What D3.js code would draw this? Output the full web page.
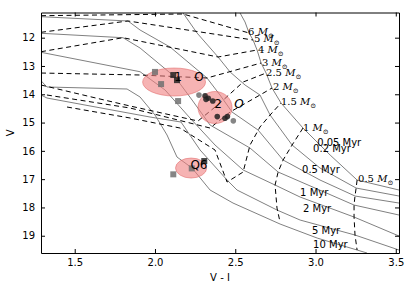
<!DOCTYPE html>
<html>
<head>
<meta charset="utf-8">
<script src="https://cdn.jsdelivr.net/npm/d3@7"></script>
<style>
body { margin: 0; background: #fff; }
text { font-family: "DejaVu Sans", sans-serif; }
</style>
</head>
<body>
<div id="chart"></div>
<script>
// isochrones (V-I, V)
var iso005 = [[2.530,11.128],[2.561,11.446],[2.586,11.835],[2.611,12.082],[2.636,12.436],[2.661,12.895],[2.692,13.249],[2.729,13.779],[2.785,14.309],[2.922,15.193],[3.091,16.147],[3.259,17.031],[3.520,17.384]];
var iso02  = [[2.175,11.128],[2.262,11.835],[2.393,12.683],[2.468,13.213],[2.561,13.673],[2.654,14.026],[2.717,14.733],[2.854,15.794],[3.028,16.607],[3.253,17.314],[3.520,17.596]];
var iso05  = [[1.290,11.258],[1.832,11.41],[1.907,11.729],[2.094,12.33],[2.324,13.425],[2.405,14.026],[2.480,14.627],[2.642,15.263],[2.798,16.324],[3.028,17.031],[3.246,17.596],[3.520,17.844]];
var iso1   = [[1.290,11.845],[1.801,12.001],[1.907,12.365],[2.125,13.39],[2.231,14.203],[2.343,15.087],[2.592,15.9],[2.767,16.748],[2.997,17.314],[3.240,17.915],[3.520,18.268]];
var iso2   = [[1.290,12.517],[1.907,13.203],[2.063,13.85],[2.218,14.839],[2.374,15.794],[2.549,16.677],[2.748,17.208],[2.904,17.632],[3.072,17.985],[3.240,18.339],[3.520,19.01]];
var iso5   = [[1.290,14.026],[1.327,14.132],[1.969,14.804],[2.162,14.981],[2.281,15.97],[2.449,17.031],[2.511,17.384],[2.760,18.091],[2.904,18.445],[3.246,18.975],[3.520,19.505]];
var iso10  = [[1.290,13.521],[1.327,13.743],[1.826,13.814],[1.907,14.097],[2.000,14.733],[2.075,15.44],[2.137,16.218],[2.231,16.607],[2.343,17.384],[2.486,17.844],[2.779,18.586],[3.010,19.081],[3.259,19.505],[3.321,19.611]];
var isoNames = ["0.05 Myr","0.2 Myr","0.5 Myr","1 Myr","2 Myr","5 Myr","10 Myr"];
var isoLabelPos = [[3.01,15.688],[2.985,15.9],[2.916,16.642],[2.904,17.455],[2.922,18.02],[2.978,18.798],[2.985,19.293]];

// mass tracks
var trk6  = [[1.290,11.223],[2.175,11.163],[2.586,11.835]];
var trk5  = [[1.290,11.81],[1.832,11.41],[2.611,12.082]];
var trk4  = [[1.290,12.496],[1.801,12.001],[2.393,12.683],[2.636,12.436]];
var trk3  = [[1.290,13.249],[1.907,13.319],[2.324,13.425],[2.661,12.895]];
var trk25 = [[1.290,13.673],[1.658,14.168],[1.845,14.415],[2.268,14.945],[2.405,14.309],[2.549,13.567],[2.692,13.249]];
var trk2  = [[1.327,14.026],[1.845,14.486],[2.343,15.193],[2.468,14.627],[2.654,14.026],[2.729,13.779]];
var trk15 = [[1.452,14.45],[1.845,14.839],[2.156,15.193],[2.374,15.97],[2.449,17.102],[2.549,16.748],[2.592,15.794],[2.654,15.157],[2.717,14.733],[2.785,14.309]];
var trk1  = [[2.922,15.193],[2.854,15.794],[2.798,16.324],[2.767,16.748],[2.748,17.208],[2.760,18.021],[2.779,18.515]];
var trk05 = [[3.259,17.031],[3.253,17.314],[3.246,17.596],[3.240,17.915],[3.240,18.339],[3.246,18.975],[3.259,19.505]];
var massNames = ["6","5","4","3","2.5","2","1.5","1","0.5"];
var massLabelPos = [[2.58,11.765],[2.617,12.012],[2.642,12.401],[2.667,12.86],[2.692,13.213],[2.735,13.743],[2.785,14.238],[2.922,15.158],[3.265,16.96]];

// stars
var sqX = [2.000,2.038,2.114,2.137,2.144,2.307,2.114,2.229];
var sqY = [13.21,13.64,13.32,13.50,14.24,16.36,16.83,16.62];
var sqDark = [0,0,1,1,0,1,0,0];
var ciX = [2.274,2.312,2.318,2.332,2.360,2.388,2.436,2.451,2.488];
var ciY = [14.03,14.05,14.18,14.14,14.24,14.79,14.85,14.79,14.94];
var ciDark = [0,1,1,1,1,1,1,1,0];

// groups
var grpNames = ["1","2","Q6"];
var grpX  = [2.119,2.374,2.225];
var grpY  = [13.567,14.468,16.607];
var grpRx = [0.196,0.106,0.097];
var grpRy = [0.495,0.566,0.354];
var grpLabelX = [2.144,2.393,2.274];
var grpLabelY = [13.39,14.344,16.5];
// extra "O" marks beside groups 1 and 2
var oLabelX = [2.274,2.523];
var oLabelY = [13.39,14.344];

var xTicks = [1.5,2.0,2.5,3.0,3.5];
var yTicks = [12,13,14,15,16,17,18,19];

var W = 415, H = 288;
var m = {left:41, right:16, top:12.5, bottom:35};

var svg = d3.select("#chart").append("svg")
    .attr("width", W).attr("height", H);

var x = d3.scaleLinear().domain([1.29, 3.52]).range([m.left, W - m.right]);
var y = d3.scaleLinear().domain([11.11, 19.61]).range([m.top, H - m.bottom]);

svg.append("clipPath").attr("id","clip")
  .append("rect").attr("x",m.left).attr("y",m.top)
  .attr("width",W-m.left-m.right).attr("height",H-m.top-m.bottom);

var plot = svg.append("g").attr("clip-path","url(#clip)");
var line = d3.line().x(function(d){return x(d[0]);}).y(function(d){return y(d[1]);});

// isochrones
[iso005,iso02,iso05,iso1,iso2,iso5,iso10].forEach(function(d){
    plot.append("path").attr("d", line(d))
        .attr("fill","none").attr("stroke","#808080").attr("stroke-width",1);
});
// tracks
[trk6,trk5,trk4,trk3,trk25,trk2,trk15,trk1,trk05].forEach(function(d){
    plot.append("path").attr("d", line(d))
        .attr("fill","none").attr("stroke","#000").attr("stroke-width",1)
        .attr("stroke-dasharray","5,3.5");
});

// ellipses
grpX.forEach(function(gx, i){
    plot.append("ellipse")
        .attr("cx", x(gx)).attr("cy", y(grpY[i]))
        .attr("rx", x(gx + grpRx[i]) - x(gx))
        .attr("ry", y(grpY[i] + grpRy[i]) - y(grpY[i]))
        .attr("fill","#f08080").attr("fill-opacity",0.6)
        .attr("stroke","#e06060").attr("stroke-opacity",0.5);
});

// squares
sqX.forEach(function(sx, i){
    plot.append("rect")
        .attr("x", x(sx) - 3).attr("y", y(sqY[i]) - 3)
        .attr("width",6).attr("height",6)
        .attr("fill", sqDark[i] ? "#222" : "#707070").attr("fill-opacity",0.85);
});
// circles
ciX.forEach(function(cx, i){
    plot.append("circle")
        .attr("cx", x(cx)).attr("cy", y(ciY[i])).attr("r",2.8)
        .attr("fill", ciDark[i] ? "#222" : "#707070").attr("fill-opacity",0.85);
});

// group labels
grpNames.forEach(function(t, i){
    plot.append("text").attr("x", x(grpLabelX[i])).attr("y", y(grpLabelY[i]))
        .attr("dy","0.35em").attr("text-anchor","middle")
        .attr("font-size",12).text(t);
});
oLabelX.forEach(function(ox, i){
    plot.append("text").attr("x", x(ox)).attr("y", y(oLabelY[i]))
        .attr("dy","0.35em").attr("text-anchor","middle")
        .attr("font-size",12).attr("font-style", i ? "italic" : "normal").text("O");
});

// mass labels
massNames.forEach(function(t, i){
    var lt = plot.append("text").attr("x", x(massLabelPos[i][0])).attr("y", y(massLabelPos[i][1]))
        .attr("dy","0.35em").attr("font-size",10)
        .style("font-family","DejaVu Serif, serif");
    lt.append("tspan").text(t + " ");
    lt.append("tspan").attr("font-style","italic").text("M");
    lt.append("tspan").attr("font-size",7).attr("dy","3").text("\u2299");
});
// age labels
isoNames.forEach(function(t, i){
    plot.append("text").attr("x", x(isoLabelPos[i][0])).attr("y", y(isoLabelPos[i][1]))
        .attr("dy","0.35em").attr("font-size",10).text(t);
});

// frame + axes (ticks inside, all four sides)
var gb = svg.append("g").attr("transform","translate(0," + (H - m.bottom) + ")")
    .call(d3.axisBottom(x).tickValues(xTicks).tickFormat(d3.format(".1f")).tickSizeInner(-4).tickSizeOuter(0).tickPadding(6));
var gt = svg.append("g").attr("transform","translate(0," + m.top + ")")
    .call(d3.axisTop(x).tickValues(xTicks).tickFormat("").tickSizeInner(-4).tickSizeOuter(0));
var gl = svg.append("g").attr("transform","translate(" + m.left + ",0)")
    .call(d3.axisLeft(y).tickValues(yTicks).tickSizeInner(-4).tickSizeOuter(0).tickPadding(6));
var gr = svg.append("g").attr("transform","translate(" + (W - m.right) + ",0)")
    .call(d3.axisRight(y).tickValues(yTicks).tickFormat("").tickSizeInner(-4).tickSizeOuter(0));
[gb,gt,gl,gr].forEach(function(g){
    g.selectAll("text").attr("font-size",10).attr("fill","#000").style("font-family","DejaVu Sans");
    g.select(".domain").attr("stroke","#000");
});

svg.append("text").attr("x", (m.left + W - m.right)/2).attr("y", 281)
    .attr("text-anchor","middle").attr("font-size",10).text("V - I");
svg.append("text").attr("transform","translate(14," + ((m.top + H - m.bottom)/2) + ") rotate(-90)")
    .attr("text-anchor","middle").attr("font-size",10).text("V");
</script>
</body>
</html>
